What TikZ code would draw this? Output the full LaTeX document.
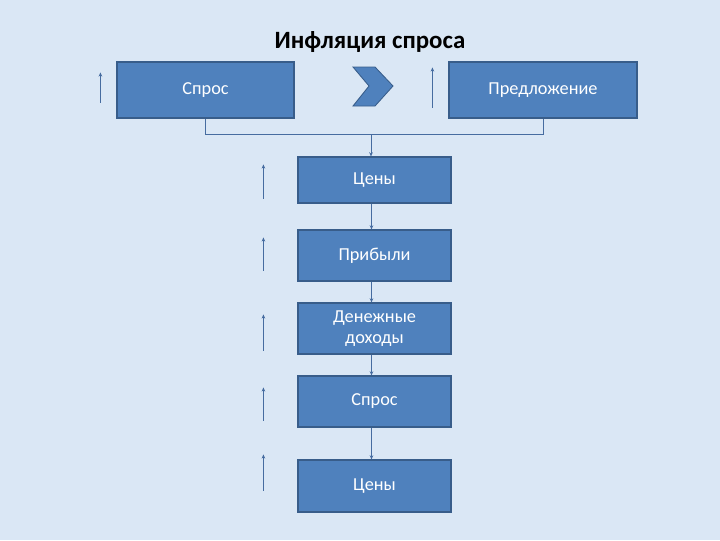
\documentclass[tikz,border=0pt]{standalone}
\usepackage{fontspec}
\setmainfont{Carlito}
\usetikzlibrary{arrows.meta,calc}

\definecolor{slide}{RGB}{218,231,245}
\definecolor{boxblue}{RGB}{79,129,189}
\definecolor{boxedge}{RGB}{56,93,138}
\definecolor{linkblue}{RGB}{70,108,160}

\begin{document}
\begin{tikzpicture}[
    x=0.025cm, y=-0.025cm,
    block/.style={rectangle, draw=boxedge, line width=0.8pt, fill=boxblue, text=white, font=\fontsize{13}{15}\selectfont, align=center, inner sep=2pt},
    link/.style={-{Stealth[length=3pt,width=2.6pt]}, draw=linkblue, line width=0.6pt},
    rise/.style={-{Stealth[length=3pt,width=2.6pt]}, draw=linkblue, line width=0.9pt}
]

% slide background
\fill[slide] (0,0) rectangle (720,540);

\node[font=\fontsize{17.7}{20}\selectfont\bfseries, anchor=base] (title) at (370,48) {Инфляция спроса};

% top row
\node[block, minimum width=4.425cm, minimum height=1.4cm] (spros) at (205.5,90) {Спрос};
\node[block, minimum width=4.7cm, minimum height=1.4cm] (offer) at (543,90) {Предложение};

\filldraw[fill=boxblue, draw=boxedge, line width=0.6pt]
    (353,67) -- (375,67) -- (393,86) -- (375,106) -- (353,106) -- (369,86) -- cycle;

% chain
\node[block, minimum width=3.825cm, minimum height=1.15cm] (prices) at (374.5,180) {Цены};
\node[block, minimum width=3.825cm, minimum height=1.275cm] (profit) at (374.5,255.5) {Прибыли};
\node[block, minimum width=3.825cm, minimum height=1.275cm] (income) at (374.5,328.5) {Денежные\\доходы};
\node[block, minimum width=3.825cm, minimum height=1.275cm] (demand) at (374.5,401.5) {Спрос};
\node[block, minimum width=3.825cm, minimum height=1.3cm] (prices2) at (374.5,486) {Цены};

% bracket joining the top row
\coordinate (join) at (371,134);
\draw[draw=linkblue, line width=0.6pt] (spros.south) -- (spros.south |- join) -- (offer.south |- join) -- (offer.south);
\draw[link] (join) -- (join |- prices.north);

\draw[link] ($(prices.south)+(-3,0)$) -- ($(profit.north)+(-3,0)$);
\draw[link] ($(profit.south)+(-3,0)$) -- ($(income.north)+(-3,0)$);
\draw[link] ($(income.south)+(-3,0)$) -- ($(demand.north)+(-3,0)$);
\draw[link] ($(demand.south)+(-3,0)$) -- ($(prices2.north)+(-3,0)$);

% growth arrows
\draw[rise] ($(spros.south west)+(-16,-16)$) -- ($(spros.north west)+(-16,11)$);
\draw[rise] ($(offer.south west)+(-16,-11)$) -- ($(offer.north west)+(-16,6)$);
\draw[rise] ($(prices.south west)+(-34,-5)$) -- ($(prices.north west)+(-34,8)$);
\draw[rise] ($(profit.south west)+(-34,-11)$) -- ($(profit.north west)+(-34,8)$);
\draw[rise] ($(income.south west)+(-34,-4)$) -- ($(income.north west)+(-34,12)$);
\draw[rise] ($(demand.south west)+(-34,-7)$) -- ($(demand.north west)+(-34,12)$);
\draw[rise] ($(prices2.south west)+(-34,-22)$) -- ($(prices2.north west)+(-34,-5)$);

\end{tikzpicture}
\end{document}
